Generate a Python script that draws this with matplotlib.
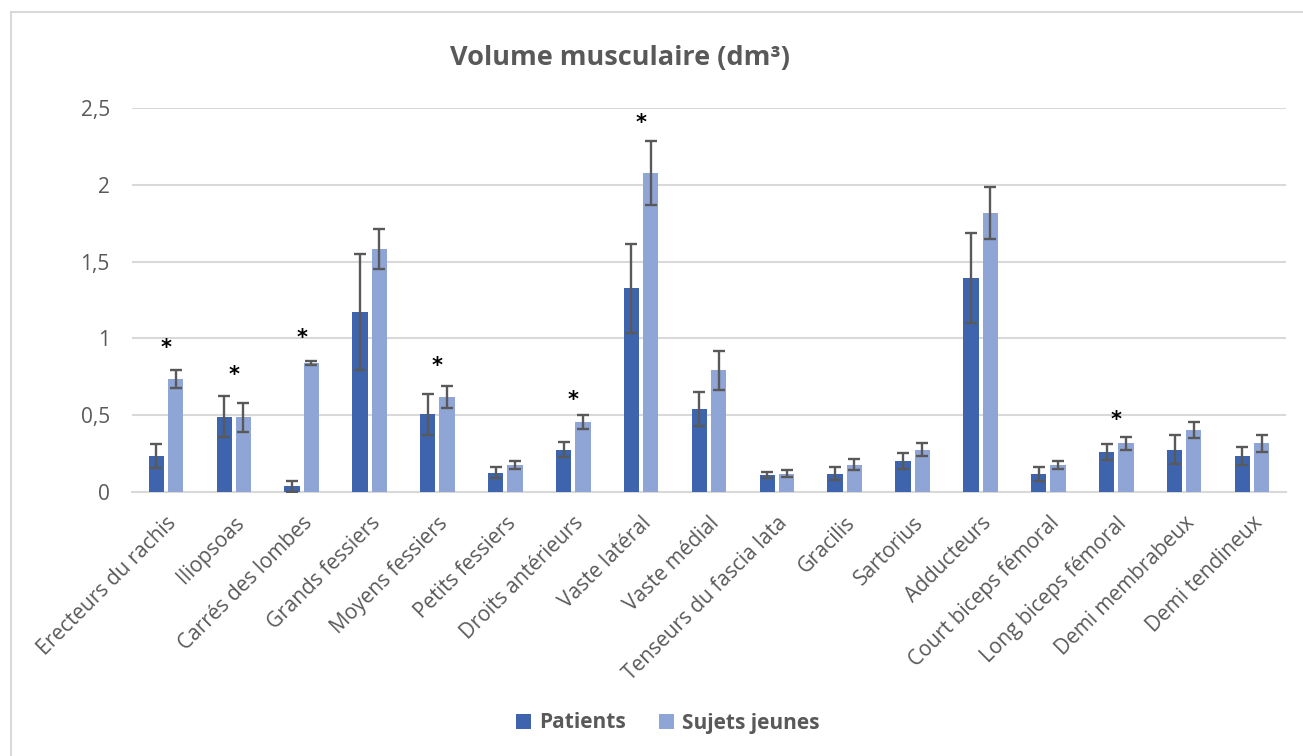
"""Volume musculaire (dm³) : patients vs sujets jeunes, par muscle."""

import numpy as np
import matplotlib
matplotlib.use("Agg")
import matplotlib.pyplot as plt
from matplotlib.patches import Rectangle

muscles = [
    "Erecteurs du rachis", "Iliopsoas", "Carrés des lombes", "Grands fessiers",
    "Moyens fessiers", "Petits fessiers", "Droits antérieurs", "Vaste latéral",
    "Vaste médial", "Tenseurs du fascia lata", "Gracilis", "Sartorius",
    "Adducteurs", "Court biceps fémoral", "Long biceps fémoral",
    "Demi membrabeux", "Demi tendineux",
]
patients = [0.235, 0.49, 0.037, 1.17, 0.505, 0.126, 0.276, 1.327,
            0.538, 0.111, 0.119, 0.202, 1.393, 0.117, 0.261, 0.276, 0.235]
patients_err = [0.08, 0.135, 0.035, 0.378, 0.135, 0.037, 0.05, 0.29,
                0.11, 0.02, 0.044, 0.052, 0.29, 0.046, 0.052, 0.093, 0.06]
jeunes = [0.734, 0.487, 0.84, 1.58, 0.619, 0.174, 0.456, 2.077,
          0.793, 0.119, 0.176, 0.276, 1.815, 0.176, 0.317, 0.406, 0.317]
jeunes_err = [0.06, 0.095, 0.01, 0.13, 0.07, 0.027, 0.045, 0.207,
              0.126, 0.022, 0.036, 0.043, 0.17, 0.028, 0.044, 0.052, 0.055]

# astérisques de significativité : (index du muscle, hauteur)
star_idx = [0, 1, 2, 4, 6, 7, 14]
star_y = [0.94, 0.76, 1.005, 0.82, 0.60, 2.40, 0.47]

yticks = [0, 0.5, 1, 1.5, 2, 2.5]
ytick_labels = ["0", "0,5", "1", "1,5", "2", "2,5"]

C_PAT = "#3d64ad"
C_JEU = "#8fa5d6"
GREY = "#595959"
W, H = 1303, 756


def main() -> None:
    plt.rcParams["font.family"] = ["Open Sans", "DejaVu Sans"]
    fig = plt.figure(figsize=(W / 100, H / 100), dpi=100)
    ax = fig.add_axes([132 / W, 1 - 492 / H, (1286 - 132) / W, (492 - 108) / H])

    # cadre extérieur gris clair (coupé à droite et en bas)
    fig.patches.append(Rectangle((11 / W, -0.05), 1.1, 1 - 12 / H + 0.05,
                                 transform=fig.transFigure, fill=False,
                                 edgecolor="#d9d9d9", linewidth=1.5))

    x = np.arange(len(muscles))
    bw, off = 0.225, 0.142
    ekw = dict(ecolor=GREY, elinewidth=1.7, capsize=4.2, capthick=1.7)
    ax.bar(x - off, patients, bw, color=C_PAT, yerr=patients_err,
           error_kw=ekw, label="Patients", zorder=3)
    ax.bar(x + off, jeunes, bw, color=C_JEU, yerr=jeunes_err,
           error_kw=ekw, label="Sujets jeunes", zorder=3)

    for i, yy in zip(star_idx, star_y):
        ax.text(x[i], yy, "*", ha="center", va="center", fontsize=15,
                fontweight="bold", color="black", family="DejaVu Sans")

    ax.set_xlim(-0.5, len(muscles) - 0.5)
    ax.set_ylim(0, 2.5)
    ax.set_yticks(yticks)
    ax.set_yticklabels(ytick_labels)
    ax.set_xticks(x)
    ax.set_xticklabels(muscles, rotation=45, ha="right",
                       rotation_mode="anchor")
    ax.tick_params(axis="both", length=0, colors=GREY, labelsize=15)
    ax.tick_params(axis="y", pad=16)
    ax.tick_params(axis="x", pad=15)
    ax.grid(axis="y", color="#d9d9d9", linewidth=1.5, zorder=0)
    for side in ("top", "right", "left"):
        ax.spines[side].set_visible(False)
    ax.spines["bottom"].set_color("#d9d9d9")
    ax.spines["bottom"].set_linewidth(1.5)

    fig.text(620 / W, 1 - 58 / H, "Volume musculaire (dm³)", ha="center",
             va="center", fontsize=19.5, fontweight="bold", color=GREY)

    leg = fig.legend(loc="center", bbox_to_anchor=(668 / W, 1 - 723 / H),
                     ncol=2, frameon=False, handlelength=0.7,
                     handleheight=0.7, handletextpad=0.4, columnspacing=1.6,
                     prop=dict(size=15, weight="bold"))
    for t in leg.get_texts():
        t.set_color(GREY)

    fig.savefig("out.png", dpi=100)
    plt.close(fig)


if __name__ == "__main__":
    main()
